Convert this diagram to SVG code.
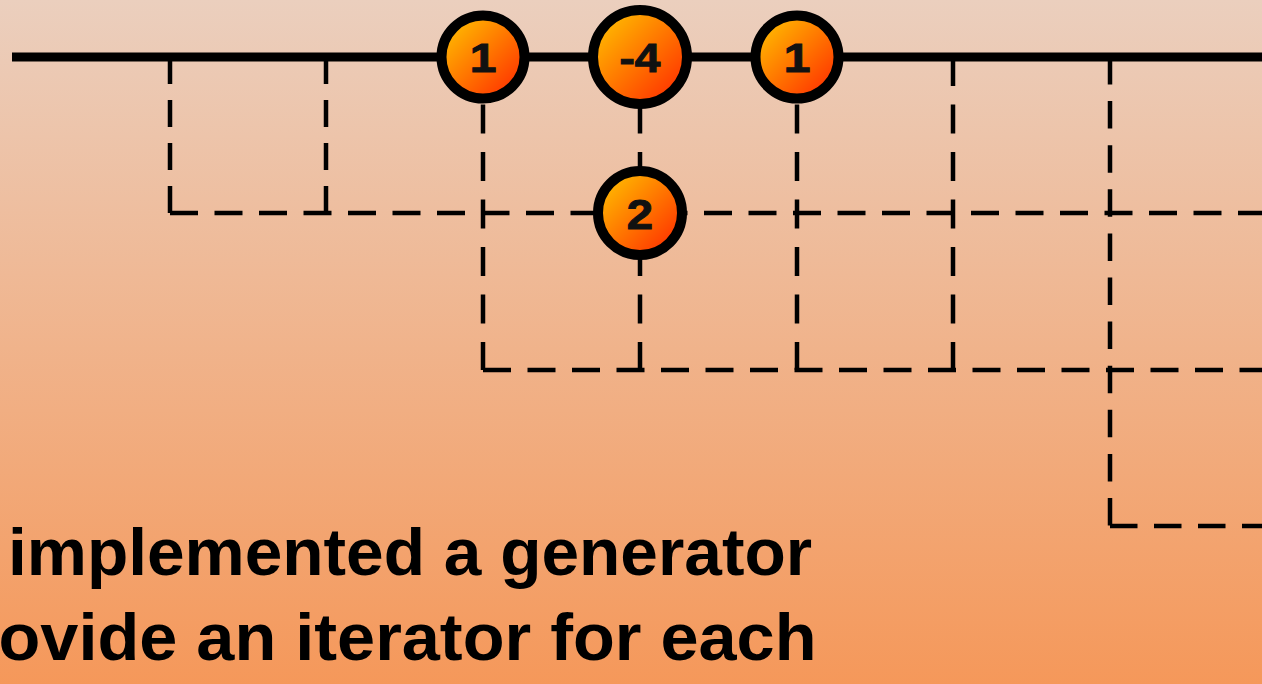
<svg xmlns="http://www.w3.org/2000/svg" width="1262" height="684" viewBox="0 0 1262 684">
  <defs>
    <linearGradient id="bg" x1="0" y1="0" x2="0" y2="1">
      <stop offset="0" stop-color="#EBCFBE"/>
      <stop offset="1" stop-color="#F5985A"/>
    </linearGradient>
    <linearGradient id="ball" x1="0.15" y1="0.15" x2="0.85" y2="0.85">
      <stop offset="0" stop-color="#FFB300"/>
      <stop offset="1" stop-color="#FF3A00"/>
    </linearGradient>
  </defs>
  <style>
    .d { fill: none; stroke: #000; stroke-width: 4.5; }
    .h { stroke-dasharray: 28 16.5; }
    .vs { stroke-dasharray: 27 16; }
    .vl { stroke-dasharray: 29 18.5; }
    .vx { stroke-dasharray: 27.5 16.6; }
    .ball { fill: url(#ball); stroke: #000; stroke-width: 10; }
    .lbl { font-family: "Liberation Sans", Arial, sans-serif; font-weight: bold; font-size: 40px; fill: #111; text-anchor: middle; stroke: #111; stroke-width: 1; }
    .cap { font-family: "Liberation Sans", Arial, sans-serif; font-weight: bold; font-size: 67.5px; fill: #000; }
  </style>
  <rect x="0" y="0" width="1262" height="684" fill="url(#bg)"/>
  <g id="connectors">
    <line class="d vs" x1="170" y1="57" x2="170" y2="213"/>
    <line class="d vs" x1="326" y1="57" x2="326" y2="213"/>
    <line class="d h" x1="170" y1="213" x2="1262" y2="213"/>
    <line class="d vl" x1="483" y1="57" x2="483" y2="370"/>
    <line class="d vl" x1="640" y1="57" x2="640" y2="370"/>
    <line class="d vl" x1="797" y1="57" x2="797" y2="370"/>
    <line class="d vl" x1="953" y1="57" x2="953" y2="370"/>
    <line class="d h" x1="483" y1="370" x2="1262" y2="370"/>
    <line class="d vx" x1="1110" y1="57" x2="1110" y2="526"/>
    <line class="d h" x1="1110" y1="526" x2="1262" y2="526" style="stroke-dasharray:27.5 16.5"/>
    <line x1="12" y1="57" x2="1262" y2="57" stroke="#000" stroke-width="9"/>
  </g>
  <g id="node-1a">
    <circle class="ball" cx="483" cy="57" r="41.5"/>
    <text class="lbl" transform="translate(483 71.5) scale(1.2 1)" x="0" y="0">1</text>
  </g>
  <g id="node-m4">
    <circle class="ball" cx="640" cy="57" r="47"/>
    <text class="lbl" transform="translate(640 71.5) scale(1.15 1)" x="0" y="0">-4</text>
  </g>
  <g id="node-1b">
    <circle class="ball" cx="797" cy="57" r="41.5"/>
    <text class="lbl" transform="translate(797 71.5) scale(1.2 1)" x="0" y="0">1</text>
  </g>
  <g id="node-2">
    <circle class="ball" cx="640" cy="213" r="42"/>
    <text class="lbl" transform="translate(640 229) scale(1.1 1)" x="0" y="0" style="font-size:43px">2</text>
  </g>
  <g id="caption">
    <text class="cap" x="8" y="575" textLength="804" lengthAdjust="spacingAndGlyphs">implemented a generator</text>
    <text class="cap" x="-1.5" y="660" textLength="818" lengthAdjust="spacingAndGlyphs">ovide an iterator for each</text>
  </g>
</svg>
